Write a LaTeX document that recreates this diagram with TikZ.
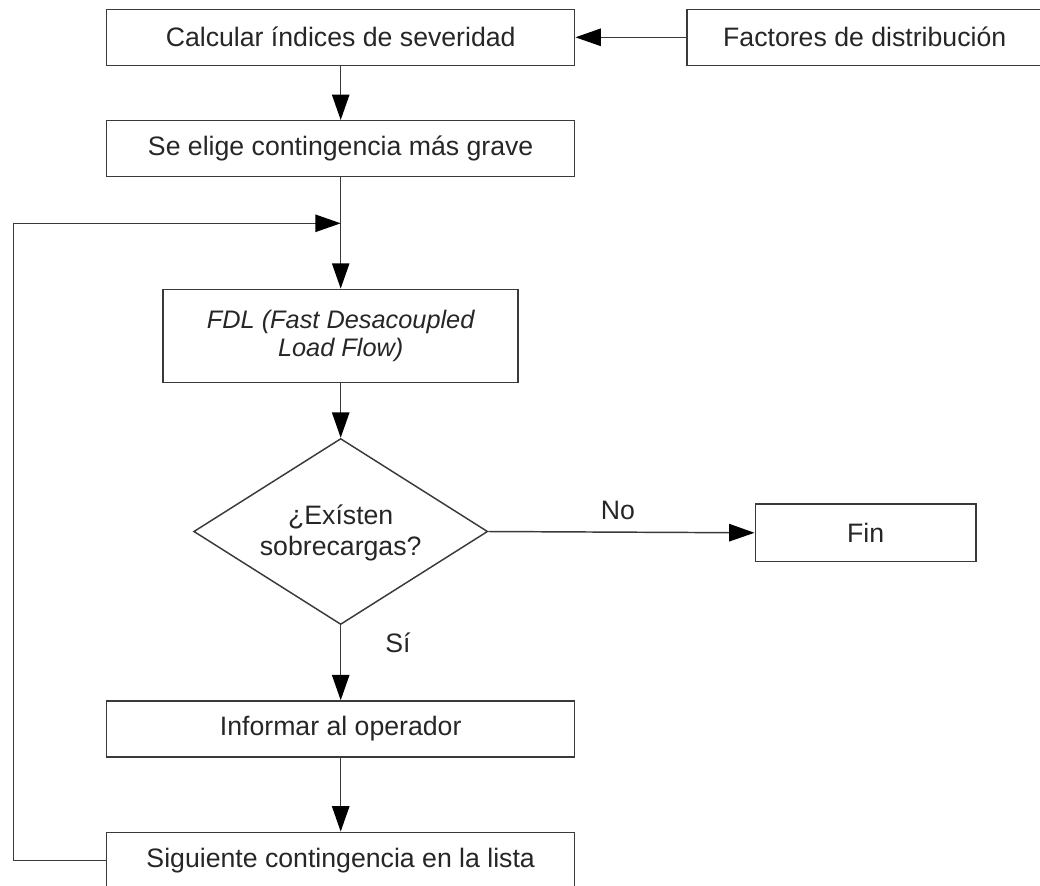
\documentclass[tikz,border=0pt]{standalone}
\usepackage{fontspec}
\setmainfont{Liberation Sans}
\usetikzlibrary{arrows.meta,shapes.geometric}
\definecolor{linec}{HTML}{3A3A3A}
\definecolor{txtc}{HTML}{262626}
\tikzset{
  box/.style={draw=linec, line width=1.1pt, minimum width=351pt, minimum height=42pt,
    inner sep=0pt, text=txtc, font=\fontsize{20}{24}\selectfont, align=center},
  arr/.style={draw=linec, line width=1.1pt, -{Triangle[length=19pt,width=13pt,color=black]}},
  lbl/.style={text=txtc, font=\fontsize{20}{24}\selectfont, inner sep=0pt}
}
\begin{document}
\begin{tikzpicture}[x=0.75pt,y=-0.75pt]
\useasboundingbox (0,0) rectangle (1040,886);
\node[box] (calc) at (340.7,37.3) {Calcular índices de severidad};
\node[box, minimum width=266.25pt] (fact) at (864.7,37.3) {Factores de distribución};
\node[box] (sel) at (340.7,148.7) {Se elige contingencia más grave};
\node[box, minimum width=266.25pt, minimum height=70pt, font=\fontsize{19}{21}\selectfont\itshape] (fdl) at (340.7,336) {FDL (Fast Desacoupled\\Load Flow)};
\node[draw=linec, line width=1.1pt, diamond, minimum width=220.5pt, minimum height=139.5pt, inner sep=0pt] (dec) at (340.7,531.5) {};
\node[lbl, align=center, font=\fontsize{20}{23.5}\selectfont] (dect) at (340.7,532.7) {¿Exísten\\sobrecargas?};
\node[box, minimum width=165.5pt, minimum height=43pt] (fin) at (865.6,532.8) {Fin};
\node[box] (inf) at (340.7,729) {Informar al operador};
\node[box] (sig) at (340.7,860.3) {Siguiente contingencia en la lista};
\coordinate (j) at (340.7,223.3);
\coordinate (lc) at (13.3,860.3);
\draw[arr] (fact.west) -- (calc.east);
\draw[arr] (calc.south) -- (sel.north);
\draw[arr] (sel.south) -- (fdl.north);
\draw[arr] (sig.west) -- (lc) |- (j);
\draw[arr] (fdl.south) -- (dec.north);
\draw[arr] (dec.east) -- (fin.west);
\draw[arr] (dec.south) -- (inf.north);
\draw[arr] (inf.south) -- (sig.north);
\node[lbl] (no) at (618,510) {No};
\node[lbl] (si) at (398,643) {Sí};
\end{tikzpicture}
\end{document}
